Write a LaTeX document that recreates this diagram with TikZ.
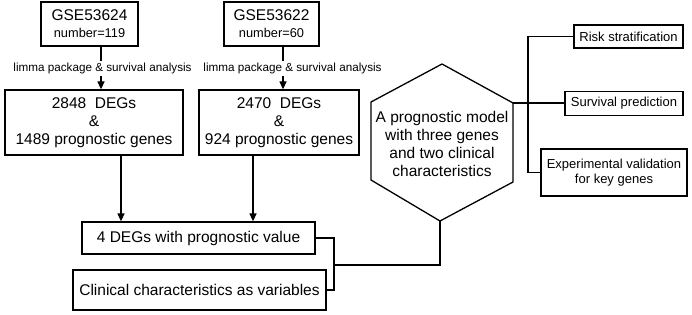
\documentclass[tikz,border=0pt]{standalone}
\usepackage{fontspec}
\setmainfont{Liberation Sans}
\usetikzlibrary{arrows.meta,shapes,positioning,calc}
\newcommand\mainsz{\fontsize{15.5pt}{17.8pt}\selectfont}
\newcommand\midsz{\fontsize{13pt}{15pt}\selectfont}
\newcommand\smlsz{\fontsize{11.7pt}{13pt}\selectfont}
\begin{document}
\begin{tikzpicture}[x=1pt,y=-1pt,>={Triangle[length=8pt,width=7pt]},line width=1.3pt,
  box/.style={draw,inner sep=0pt,align=center,font=\mainsz},
  outbox/.style={draw,inner sep=0pt,align=center,font=\midsz}]
  \useasboundingbox (0,0) rectangle (692,315);
  % data sets
  \node[box,minimum width=97pt,minimum height=44pt] (gse1) at (89.5,24) {GSE53624\\[-1pt]{\fontsize{12.8pt}{14pt}\selectfont number=119}};
  \node[box,minimum width=95pt,minimum height=44pt] (gse2) at (271.5,24) {GSE53622\\[-1pt]{\fontsize{12.8pt}{14pt}\selectfont number=60}};
  \node[font=\smlsz,inner sep=1pt] (lab1) at (102.5,68.5) {limma package \& survival analysis};
  \node[font=\smlsz,inner sep=1pt] (lab2) at (292.5,68.5) {limma package \& survival analysis};
  \coordinate (a1) at (101,0);
  \coordinate (a2) at (283,0);
  % DEGs
  \node[box,minimum width=178pt,minimum height=65pt] (deg1) at (94,122.5) {2848~~DEGs\\\&\\1489 prognostic genes};
  \node[box,minimum width=160pt,minimum height=65pt] (deg2) at (279,122.5) {2470~~DEGs\\\&\\924 prognostic genes};
  \draw (gse1.south -| a1) -- (lab1.north -| a1);
  \draw[->] (lab1.south -| a1) -- (deg1.north -| a1);
  \draw (gse2.south -| a2) -- (lab2.north -| a2);
  \draw[->] (lab2.south -| a2) -- (deg2.north -| a2);
  % signature and clinical
  \node[box,minimum width=233pt,minimum height=32pt] (sig) at (198.5,238) {4 DEGs with prognostic value};
  \node[box,minimum width=253pt,minimum height=40pt] (clin) at (199.5,290) {Clinical characteristics as variables};
  \coordinate (c1) at (121,0);
  \coordinate (c2) at (253,0);
  \draw[->] (deg1.south -| c1) -- (sig.north -| c1);
  \draw[->] (deg2.south -| c2) -- (sig.north -| c2);
  % model (hexagon)
  \node[align=center,font=\mainsz,inner sep=0pt] (model) at (442,144) {A prognostic model\\with three genes\\and two clinical\\characteristics};
  \coordinate (hxt) at (442,64);
  \coordinate (hxr1) at (513,103);
  \coordinate (hxr2) at (513,182);
  \coordinate (hxb) at (440,221);
  \coordinate (hxl2) at (371,180);
  \coordinate (hxl1) at (371,102);
  \draw[line join=miter] (hxt) -- (hxr1) -- (hxr2) -- (hxb) -- (hxl2) -- (hxl1) -- cycle;
  \coordinate (j1) at (334,265);
  \draw (sig.east) -| (j1) |- (clin.east);
  \draw (j1) -| (hxb);
  % outcomes
  \node[outbox,minimum width=109pt,minimum height=23pt] (risk) at (628.5,36.5) {Risk stratification};
  \node[outbox,minimum width=118pt,minimum height=24pt] (surv) at (624,103.5) {Survival prediction};
  \node[outbox,minimum width=146pt,minimum height=47pt] (expv) at (614,172.5) {Experimental validation\\for key genes};
  \coordinate (br) at (528,0);
  \draw (hxr1) -- (hxr1 -| surv.west);
  \draw (risk.west) -| (br |- expv.west) -- (expv.west);
\end{tikzpicture}
\end{document}
